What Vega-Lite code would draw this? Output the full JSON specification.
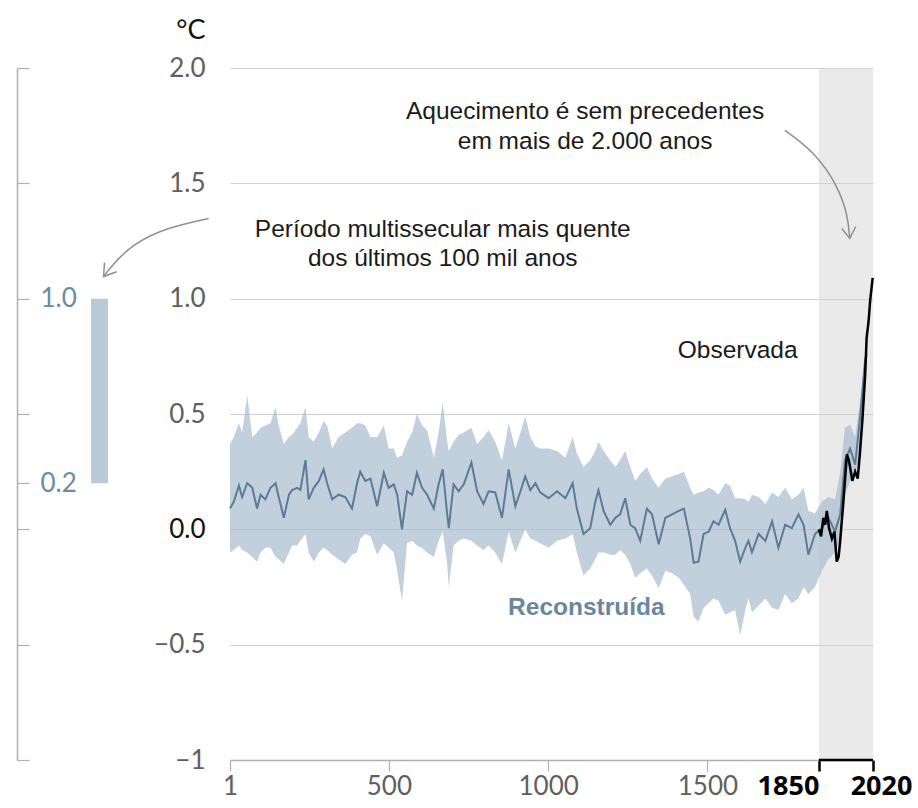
{
  "$schema": "https://vega.github.io/schema/vega-lite/v6.json",
  "background": "white",
  "padding": {"left": 16, "top": 16, "right": 5, "bottom": 5},
  "bounds": "flush",
  "spacing": 122,
  "config": {"view": {"stroke": null}, "font": "Liberation Sans"},
  "datasets": {
    "range": [{"k": "range", "lo": 0.2, "hi": 1.0}],
    "period": [{"start": 1850, "end": 2020}],
    "recon": [
      {"year": 1, "t": 0.09, "hi": 0.37, "lo": -0.10},
      {"year": 13, "t": 0.12, "hi": 0.40, "lo": -0.09},
      {"year": 29, "t": 0.19, "hi": 0.46, "lo": -0.07},
      {"year": 39, "t": 0.14, "hi": 0.42, "lo": -0.09},
      {"year": 55, "t": 0.20, "hi": 0.58, "lo": -0.10},
      {"year": 71, "t": 0.18, "hi": 0.40, "lo": -0.12},
      {"year": 86, "t": 0.09, "hi": 0.42, "lo": -0.14},
      {"year": 97, "t": 0.15, "hi": 0.44, "lo": -0.10},
      {"year": 112, "t": 0.13, "hi": 0.45, "lo": -0.08},
      {"year": 128, "t": 0.18, "hi": 0.46, "lo": -0.08},
      {"year": 144, "t": 0.20, "hi": 0.53, "lo": -0.12},
      {"year": 154, "t": 0.14, "hi": 0.45, "lo": -0.13},
      {"year": 170, "t": 0.05, "hi": 0.37, "lo": -0.15},
      {"year": 186, "t": 0.15, "hi": 0.40, "lo": -0.10},
      {"year": 196, "t": 0.17, "hi": 0.41, "lo": -0.07},
      {"year": 212, "t": 0.18, "hi": 0.44, "lo": -0.07},
      {"year": 222, "t": 0.17, "hi": 0.46, "lo": -0.05},
      {"year": 238, "t": 0.30, "hi": 0.53, "lo": -0.02},
      {"year": 248, "t": 0.13, "hi": 0.40, "lo": -0.10},
      {"year": 264, "t": 0.18, "hi": 0.38, "lo": -0.14},
      {"year": 280, "t": 0.21, "hi": 0.42, "lo": -0.10},
      {"year": 295, "t": 0.26, "hi": 0.47, "lo": -0.08},
      {"year": 306, "t": 0.20, "hi": 0.45, "lo": -0.09},
      {"year": 322, "t": 0.13, "hi": 0.35, "lo": -0.11},
      {"year": 342, "t": 0.15, "hi": 0.40, "lo": -0.13},
      {"year": 363, "t": 0.14, "hi": 0.42, "lo": -0.15},
      {"year": 384, "t": 0.09, "hi": 0.44, "lo": -0.11},
      {"year": 400, "t": 0.20, "hi": 0.46, "lo": -0.10},
      {"year": 410, "t": 0.25, "hi": 0.46, "lo": -0.04},
      {"year": 426, "t": 0.21, "hi": 0.45, "lo": -0.02},
      {"year": 442, "t": 0.22, "hi": 0.40, "lo": -0.03},
      {"year": 463, "t": 0.10, "hi": 0.40, "lo": -0.11},
      {"year": 484, "t": 0.245, "hi": 0.45, "lo": -0.06},
      {"year": 499, "t": 0.18, "hi": 0.35, "lo": -0.08},
      {"year": 515, "t": 0.195, "hi": 0.35, "lo": -0.10},
      {"year": 526, "t": 0.15, "hi": 0.31, "lo": -0.18},
      {"year": 541, "t": 0.00, "hi": 0.32, "lo": -0.31},
      {"year": 557, "t": 0.165, "hi": 0.38, "lo": -0.06},
      {"year": 573, "t": 0.15, "hi": 0.42, "lo": -0.05},
      {"year": 588, "t": 0.245, "hi": 0.50, "lo": -0.07},
      {"year": 604, "t": 0.18, "hi": 0.45, "lo": -0.08},
      {"year": 620, "t": 0.15, "hi": 0.43, "lo": -0.10},
      {"year": 641, "t": 0.09, "hi": 0.31, "lo": -0.12},
      {"year": 656, "t": 0.195, "hi": 0.42, "lo": -0.05},
      {"year": 669, "t": 0.26, "hi": 0.55, "lo": -0.01},
      {"year": 683, "t": 0.065, "hi": 0.38, "lo": -0.15},
      {"year": 688, "t": 0.005, "hi": 0.34, "lo": -0.25},
      {"year": 703, "t": 0.195, "hi": 0.38, "lo": -0.07},
      {"year": 719, "t": 0.165, "hi": 0.41, "lo": -0.05},
      {"year": 735, "t": 0.195, "hi": 0.42, "lo": -0.04},
      {"year": 759, "t": 0.29, "hi": 0.44, "lo": -0.05},
      {"year": 777, "t": 0.165, "hi": 0.37, "lo": -0.07},
      {"year": 797, "t": 0.11, "hi": 0.40, "lo": -0.09},
      {"year": 813, "t": 0.165, "hi": 0.43, "lo": -0.07},
      {"year": 834, "t": 0.16, "hi": 0.38, "lo": -0.10},
      {"year": 855, "t": 0.05, "hi": 0.30, "lo": -0.15},
      {"year": 876, "t": 0.26, "hi": 0.46, "lo": -0.01},
      {"year": 897, "t": 0.10, "hi": 0.35, "lo": -0.10},
      {"year": 913, "t": 0.165, "hi": 0.42, "lo": -0.05},
      {"year": 928, "t": 0.23, "hi": 0.49, "lo": 0.00},
      {"year": 944, "t": 0.17, "hi": 0.40, "lo": -0.04},
      {"year": 960, "t": 0.20, "hi": 0.36, "lo": -0.05},
      {"year": 975, "t": 0.16, "hi": 0.35, "lo": -0.06},
      {"year": 1001, "t": 0.135, "hi": 0.35, "lo": -0.08},
      {"year": 1028, "t": 0.165, "hi": 0.34, "lo": -0.05},
      {"year": 1054, "t": 0.135, "hi": 0.31, "lo": -0.04},
      {"year": 1077, "t": 0.20, "hi": 0.40, "lo": -0.02},
      {"year": 1090, "t": 0.09, "hi": 0.33, "lo": -0.10},
      {"year": 1111, "t": -0.02, "hi": 0.27, "lo": -0.20},
      {"year": 1132, "t": 0.005, "hi": 0.30, "lo": -0.17},
      {"year": 1148, "t": 0.12, "hi": 0.34, "lo": -0.13},
      {"year": 1158, "t": 0.17, "hi": 0.38, "lo": -0.10},
      {"year": 1174, "t": 0.08, "hi": 0.34, "lo": -0.10},
      {"year": 1195, "t": 0.02, "hi": 0.30, "lo": -0.11},
      {"year": 1211, "t": 0.05, "hi": 0.27, "lo": -0.11},
      {"year": 1226, "t": 0.065, "hi": 0.30, "lo": -0.09},
      {"year": 1242, "t": 0.135, "hi": 0.34, "lo": -0.11},
      {"year": 1258, "t": 0.02, "hi": 0.27, "lo": -0.15},
      {"year": 1273, "t": 0.005, "hi": 0.21, "lo": -0.21},
      {"year": 1289, "t": -0.05, "hi": 0.24, "lo": -0.19},
      {"year": 1310, "t": 0.09, "hi": 0.27, "lo": -0.17},
      {"year": 1326, "t": 0.065, "hi": 0.22, "lo": -0.20},
      {"year": 1347, "t": -0.065, "hi": 0.18, "lo": -0.255},
      {"year": 1368, "t": 0.05, "hi": 0.22, "lo": -0.18},
      {"year": 1389, "t": 0.065, "hi": 0.23, "lo": -0.19},
      {"year": 1410, "t": 0.08, "hi": 0.24, "lo": -0.21},
      {"year": 1426, "t": 0.09, "hi": 0.25, "lo": -0.24},
      {"year": 1446, "t": -0.04, "hi": 0.18, "lo": -0.28},
      {"year": 1457, "t": -0.145, "hi": 0.15, "lo": -0.38},
      {"year": 1472, "t": -0.14, "hi": 0.16, "lo": -0.40},
      {"year": 1488, "t": -0.02, "hi": 0.165, "lo": -0.34},
      {"year": 1504, "t": -0.01, "hi": 0.18, "lo": -0.32},
      {"year": 1519, "t": 0.035, "hi": 0.17, "lo": -0.30},
      {"year": 1535, "t": 0.02, "hi": 0.15, "lo": -0.31},
      {"year": 1556, "t": 0.085, "hi": 0.20, "lo": -0.37},
      {"year": 1571, "t": 0.005, "hi": 0.19, "lo": -0.36},
      {"year": 1587, "t": -0.05, "hi": 0.135, "lo": -0.35},
      {"year": 1603, "t": -0.14, "hi": 0.135, "lo": -0.46},
      {"year": 1619, "t": -0.08, "hi": 0.13, "lo": -0.35},
      {"year": 1629, "t": -0.05, "hi": 0.12, "lo": -0.30},
      {"year": 1640, "t": -0.10, "hi": 0.15, "lo": -0.36},
      {"year": 1661, "t": -0.02, "hi": 0.14, "lo": -0.33},
      {"year": 1682, "t": -0.05, "hi": 0.11, "lo": -0.30},
      {"year": 1703, "t": 0.035, "hi": 0.16, "lo": -0.34},
      {"year": 1723, "t": -0.08, "hi": 0.14, "lo": -0.35},
      {"year": 1744, "t": 0.02, "hi": 0.18, "lo": -0.28},
      {"year": 1765, "t": 0.005, "hi": 0.13, "lo": -0.32},
      {"year": 1786, "t": 0.065, "hi": 0.15, "lo": -0.30},
      {"year": 1802, "t": 0.02, "hi": 0.18, "lo": -0.25},
      {"year": 1817, "t": -0.11, "hi": 0.08, "lo": -0.28},
      {"year": 1838, "t": -0.02, "hi": 0.07, "lo": -0.25},
      {"year": 1859, "t": 0.005, "hi": 0.12, "lo": -0.18},
      {"year": 1880, "t": 0.05, "hi": 0.14, "lo": -0.13},
      {"year": 1901, "t": -0.01, "hi": 0.13, "lo": -0.10},
      {"year": 1917, "t": 0.065, "hi": 0.25, "lo": -0.05},
      {"year": 1932, "t": 0.30, "hi": 0.44, "lo": 0.15},
      {"year": 1948, "t": 0.35, "hi": 0.455, "lo": 0.21},
      {"year": 1964, "t": 0.28, "hi": 0.40, "lo": 0.23},
      {"year": 1979, "t": 0.48, "hi": 0.55, "lo": 0.33},
      {"year": 1995, "t": 0.73, "hi": 0.745, "lo": 0.66},
      {"year": 2000, "t": 0.76, "hi": 0.77, "lo": 0.72}
    ],
    "observed": [
      {"year": 1850, "obs": 0.0},
      {"year": 1857, "obs": -0.03},
      {"year": 1864, "obs": 0.05},
      {"year": 1870, "obs": 0.02},
      {"year": 1875, "obs": 0.08},
      {"year": 1882, "obs": 0.005},
      {"year": 1891, "obs": -0.04},
      {"year": 1899, "obs": -0.01},
      {"year": 1906, "obs": -0.14},
      {"year": 1912, "obs": -0.12},
      {"year": 1917, "obs": -0.05},
      {"year": 1927, "obs": 0.12},
      {"year": 1938, "obs": 0.325},
      {"year": 1944, "obs": 0.30},
      {"year": 1948, "obs": 0.27},
      {"year": 1955, "obs": 0.21},
      {"year": 1964, "obs": 0.25},
      {"year": 1972, "obs": 0.22},
      {"year": 1979, "obs": 0.33},
      {"year": 1987, "obs": 0.48},
      {"year": 1995, "obs": 0.66},
      {"year": 2000, "obs": 0.83},
      {"year": 2006, "obs": 0.90},
      {"year": 2011, "obs": 0.99},
      {"year": 2019, "obs": 1.09}
    ],
    "arrowCurves": [
      {"arrow": "a", "ord": 1, "year": -66, "value": 1.348},
      {"arrow": "a", "ord": 2, "year": -195, "value": 1.309},
      {"arrow": "a", "ord": 3, "year": -302, "value": 1.239},
      {"arrow": "a", "ord": 4, "year": -365, "value": 1.152},
      {"arrow": "a", "ord": 5, "year": -396, "value": 1.096},
      {"arrow": "b", "ord": 1, "year": 1743, "value": 1.730},
      {"arrow": "b", "ord": 2, "year": 1837, "value": 1.635},
      {"arrow": "b", "ord": 3, "year": 1909, "value": 1.491},
      {"arrow": "b", "ord": 4, "year": 1941, "value": 1.361},
      {"arrow": "b", "ord": 5, "year": 1947, "value": 1.261}
    ],
    "arrowHeads": [
      {"arrow": "a", "ord": 1, "year": -393, "value": 1.157},
      {"arrow": "a", "ord": 2, "year": -396, "value": 1.096},
      {"arrow": "a", "ord": 3, "year": -355, "value": 1.117},
      {"arrow": "b", "ord": 1, "year": 1922, "value": 1.304},
      {"arrow": "b", "ord": 2, "year": 1947, "value": 1.261},
      {"arrow": "b", "ord": 3, "year": 1966, "value": 1.313}
    ],
    "notes": [
      {"year": 1116, "value": 1.809, "label": "Aquecimento é sem precedentes"},
      {"year": 1116, "value": 1.678, "label": "em mais de 2.000 anos"},
      {"year": 669, "value": 1.296, "label": "Período multissecular mais quente"},
      {"year": 669, "value": 1.170, "label": "dos últimos 100 mil anos"},
      {"year": 1595, "value": 0.774, "label": "Observada"}
    ],
    "seriesLabel": [
      {"year": 1120, "value": -0.339, "label": "Reconstruída"}
    ]
  },
  "hconcat": [
    {
      "width": 17,
      "height": 692,
      "data": {"name": "range"},
      "mark": {"type": "bar", "fill": "#b9c9d5"},
      "encoding": {
        "x": {"field": "k", "type": "nominal", "axis": null, "scale": {"paddingInner": 0, "paddingOuter": 0}},
        "y": {
          "field": "hi", "type": "quantitative",
          "scale": {"domain": [-1, 2], "nice": false},
          "axis": {
            "orient": "right", "offset": -91, "title": null, "grid": false,
            "values": [2, 1.5, 1, 0.5, 0.2, 0, -0.5, -1],
            "labelExpr": "datum.value == 1 ? '1.0' : (datum.value == 0.2 ? '0.2' : '')",
            "domainColor": "#b0b0b0", "domainWidth": 1.5,
            "tickColor": "#b0b0b0", "tickWidth": 1.2, "tickSize": 12,
            "labelPadding": 11, "labelFont": "Lato", "labelFontSize": 26,
            "labelColor": "#6a8ca2", "labelOverlap": false, "labelFlush": false
          }
        },
        "y2": {"field": "lo"}
      }
    },
    {
      "width": 643,
      "height": 692,
      "layer": [
        {
          "data": {"name": "period"},
          "mark": {"type": "rect", "fill": "#d6d6d6", "opacity": 0.5},
          "encoding": {
            "x": {"field": "start", "type": "quantitative"},
            "x2": {"field": "end"},
            "y": {"datum": -1, "type": "quantitative"},
            "y2": {"datum": 2}
          }
        },
        {
          "data": {"name": "recon"},
          "mark": {"type": "area", "fill": "#a9bece", "opacity": 0.72},
          "encoding": {
            "x": {
              "field": "year", "type": "quantitative",
              "scale": {"domain": [1, 2020], "nice": false, "zero": false},
              "axis": {
                "values": [1, 500, 1000, 1500, 1850, 2020],
                "format": "d", "title": null, "grid": false,
                "domainColor": "#b0b0b0", "domainWidth": 1.5,
                "tickSize": 11,
                "tickColor": {"condition": {"test": "datum.value >= 1850", "value": "#000000"}, "value": "#b0b0b0"},
                "tickWidth": {"condition": {"test": "datum.value >= 1850", "value": 2.5}, "value": 1.2},
                "labelFont": {"condition": {"test": "datum.value >= 1850", "value": "Open Sans"}, "value": "Lato"},
                "labelFontSize": {"condition": {"test": "datum.value >= 1850", "value": 27}, "value": 26},
                "labelFontWeight": {"condition": {"test": "datum.value >= 1850", "value": "bold"}, "value": "normal"},
                "labelColor": {"condition": {"test": "datum.value >= 1850", "value": "#000000"}, "value": "#5f5f5f"},
                "labelAlign": {"condition": {"test": "datum.value == 1850", "value": "right"}, "value": "center"},
                "labelOffset": {"condition": {"test": "datum.value == 2020", "value": 8}, "value": 0},
                "labelPadding": 2, "labelOverlap": false, "labelFlush": false
              }
            },
            "y": {
              "field": "hi", "type": "quantitative",
              "scale": {"domain": [-1, 2], "nice": false, "zero": false},
              "axis": {
                "values": [-1, -0.5, 0, 0.5, 1, 1.5, 2],
                "labelExpr": "datum.value == -1 ? '−1' : format(datum.value, '.1f')",
                "domain": false, "ticks": false,
                "grid": true, "gridColor": "#cfcfcf", "gridWidth": 1.2,
                "labelFont": "Lato", "labelFontSize": 26,
                "labelColor": {"condition": {"test": "datum.value == 0", "value": "#111111"}, "value": "#5f5f5f"},
                "labelPadding": 25,
                "title": "°C", "titleAngle": 0, "titleAlign": "right", "titleBaseline": "middle",
                "titleX": -25, "titleY": -38, "titleFont": "Lato", "titleFontSize": 27,
                "titleFontWeight": "normal", "titleColor": "#111111"
              }
            },
            "y2": {"field": "lo"}
          }
        },
        {
          "data": {"name": "recon"},
          "mark": {"type": "line", "stroke": "#5a7d94", "strokeWidth": 2},
          "encoding": {
            "x": {"field": "year", "type": "quantitative"},
            "y": {"field": "t", "type": "quantitative"}
          }
        },
        {
          "data": {"name": "observed"},
          "mark": {"type": "line", "stroke": "#000000", "strokeWidth": 2.5},
          "encoding": {
            "x": {"field": "year", "type": "quantitative"},
            "y": {"field": "obs", "type": "quantitative"}
          }
        },
        {
          "data": {"name": "period"},
          "mark": {"type": "rule", "stroke": "#000000", "strokeWidth": 2.5},
          "encoding": {
            "x": {"field": "start", "type": "quantitative"},
            "x2": {"field": "end"},
            "y": {"datum": -1, "type": "quantitative"}
          }
        },
        {
          "data": {"name": "arrowCurves"},
          "mark": {"type": "line", "stroke": "#8f8f8f", "strokeWidth": 1.5, "interpolate": "basis", "clip": false},
          "encoding": {
            "x": {"field": "year", "type": "quantitative"},
            "y": {"field": "value", "type": "quantitative"},
            "detail": {"field": "arrow"},
            "order": {"field": "ord"}
          }
        },
        {
          "data": {"name": "arrowHeads"},
          "mark": {"type": "line", "stroke": "#8f8f8f", "strokeWidth": 1.5, "clip": false},
          "encoding": {
            "x": {"field": "year", "type": "quantitative"},
            "y": {"field": "value", "type": "quantitative"},
            "detail": {"field": "arrow"},
            "order": {"field": "ord"}
          }
        },
        {
          "data": {"name": "notes"},
          "mark": {"type": "text", "font": "Liberation Sans", "fontSize": 24.5, "color": "#1a1a1a", "align": "center", "baseline": "middle"},
          "encoding": {
            "x": {"field": "year", "type": "quantitative"},
            "y": {"field": "value", "type": "quantitative"},
            "text": {"field": "label"}
          }
        },
        {
          "data": {"name": "seriesLabel"},
          "mark": {"type": "text", "font": "Liberation Sans", "fontSize": 24.5, "fontWeight": "bold", "color": "#6a879c", "align": "center", "baseline": "middle"},
          "encoding": {
            "x": {"field": "year", "type": "quantitative"},
            "y": {"field": "value", "type": "quantitative"},
            "text": {"field": "label"}
          }
        }
      ]
    }
  ]
}
